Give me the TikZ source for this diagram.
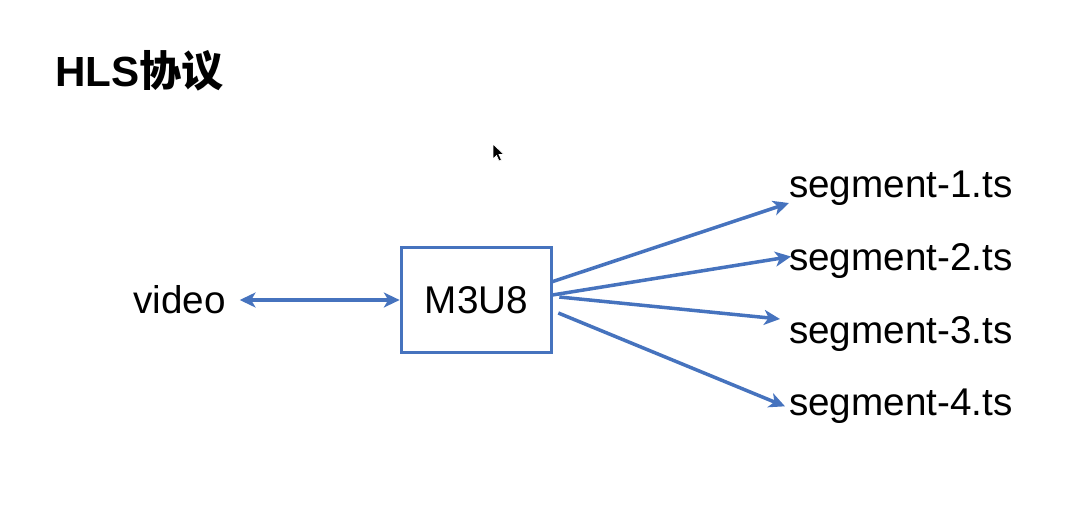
\documentclass[tikz,border=0pt]{standalone}
\usepackage{fontspec}
\setmainfont{Liberation Sans}
\newfontfamily\cjk{Noto Sans CJK SC}
\usepackage{tikz}
\usetikzlibrary{arrows.meta,positioning}
\definecolor{hlsblue}{RGB}{70,115,190}
\tikzstyle{kasten}=[rectangle,draw=hlsblue,line width=2.1pt,inner sep=0pt,minimum width=3cm,minimum height=2.1cm]
\tikzstyle{txt}=[inner sep=0pt,outer sep=0pt,font=\fontsize{22}{26}\selectfont]
\tikzstyle{pfeil}=[->,>={Stealth[length=9pt,width=8.5pt,inset=2.5pt]},draw=hlsblue,line width=2pt]
\begin{document}
\begin{tikzpicture}[x=0.02cm,y=-0.02cm]
    \useasboundingbox (0,0) rectangle (1066,511);

    % Titel
    \node[txt, anchor=base west, font=\fontsize{24}{29}\selectfont\bfseries] (titel) at (55,86) {HLS{\cjk\bfseries 协议}};

    % Knoten
    \node[kasten] (m3u8) at (476.5,300) {\fontsize{22}{26}\selectfont M3U8};
    \node[txt] (video) [left=3.48cm of m3u8] {video};
    \node[txt, anchor=base west] (seg1) at (789,197) {segment-1.ts};
    \node[txt] (seg2) [below=0.76cm of seg1] {segment-2.ts};
    \node[txt] (seg3) [below=0.76cm of seg2] {segment-3.ts};
    \node[txt] (seg4) [below=0.76cm of seg3] {segment-4.ts};

    % Pfeile
    \draw [pfeil, <->] ([shift={(14,0)}]video.east) to (m3u8.west);
    \draw [pfeil] ([shift={(-2,-18)}]m3u8.east) to ([shift={(0,-2)}]seg1.south west);
    \draw [pfeil] ([shift={(-1,-5)}]m3u8.east) to ([shift={(2,-4)}]seg2.west);
    \draw [pfeil] ([shift={(6,-3)}]m3u8.east) to ([shift={(-9,3)}]seg3.north west);
    \draw [pfeil] ([shift={(5,13)}]m3u8.east) to ([shift={(-4,0)}]seg4.west);

    % Mauszeiger
    \fill[black, draw=white, line width=0.4pt] (493,144) -- (493,159) -- (496.5,155.5) -- (499,161) -- (501.5,160) -- (499,154.5) -- (504,154.5) -- cycle;

\end{tikzpicture}
\end{document}
